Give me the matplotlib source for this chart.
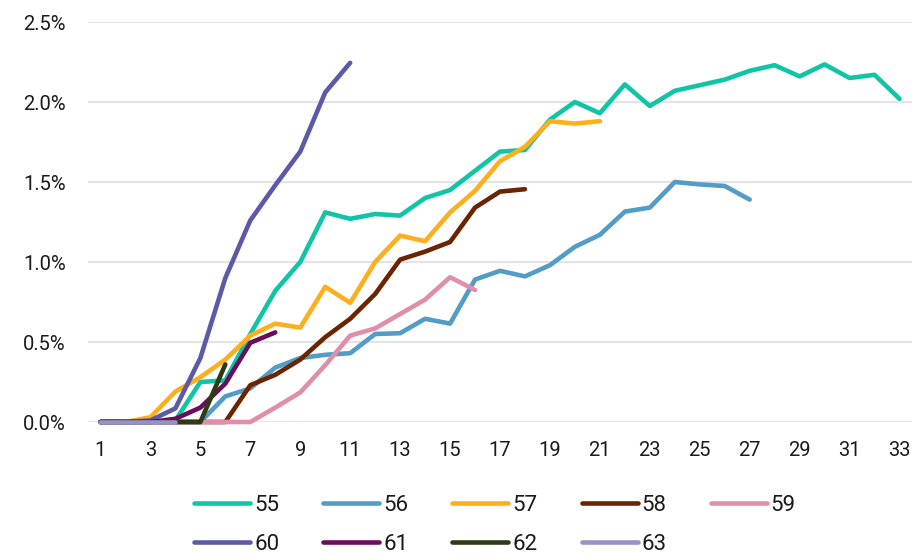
import matplotlib
matplotlib.use("Agg")
import matplotlib.pyplot as plt
from matplotlib.ticker import FuncFormatter, FixedLocator

# ---- data (values in %) ----
s55 = [0, 0, 0, 0.01, 0.25, 0.26, 0.55, 0.82, 1.00, 1.31, 1.27, 1.30, 1.29, 1.40, 1.45, 1.57,
       1.69, 1.70, 1.89, 2.00, 1.93, 2.11, 1.975, 2.07, 2.105, 2.14, 2.195, 2.23, 2.16, 2.235,
       2.15, 2.17, 2.02]
s56 = [0, 0, 0, 0, 0, 0.16, 0.21, 0.34, 0.40, 0.42, 0.43, 0.55, 0.555, 0.645, 0.615, 0.89,
       0.945, 0.91, 0.98, 1.095, 1.17, 1.315, 1.34, 1.50, 1.485, 1.475, 1.39]
s57 = [0, 0, 0.03, 0.19, 0.28, 0.39, 0.54, 0.615, 0.59, 0.845, 0.745, 1.00, 1.165, 1.13,
       1.31, 1.445, 1.63, 1.72, 1.88, 1.865, 1.88]
s58 = [0, 0, 0, 0, 0, 0, 0.23, 0.295, 0.39, 0.53, 0.645, 0.80, 1.015, 1.065, 1.125, 1.34,
       1.44, 1.455]
s59 = [0, 0, 0, 0, 0, 0, 0, 0.09, 0.185, 0.355, 0.54, 0.585, 0.675, 0.765, 0.905, 0.825]
s60 = [0, 0, 0.01, 0.085, 0.40, 0.90, 1.26, 1.48, 1.69, 2.06, 2.245]
s61 = [0, 0, 0, 0.02, 0.09, 0.24, 0.495, 0.56]
s62 = [0, 0, 0, 0, 0, 0.36]
s63 = [0, 0, 0, 0]

series_names = ["55", "56", "57", "58", "59", "60", "61", "62", "63"]
series_values = [s55, s56, s57, s58, s59, s60, s61, s62, s63]
colors = ["#10C5A6", "#529CC5", "#FFAE1C", "#6B2400", "#E08EAB",
          "#5A5AA8", "#6A0E5C", "#2D3A14", "#9890C8"]

x_ticks = list(range(1, 34, 2))
y_ticks = [0.0, 0.5, 1.0, 1.5, 2.0, 2.5]

plt.rcParams["font.family"] = ["Roboto", "DejaVu Sans"]
TXT = "#1A1A1A"

fig = plt.figure(figsize=(9.15, 5.55), dpi=100)
ax = fig.add_axes([88 / 915, 1 - 422 / 555, (912 - 88) / 915, 400 / 555])

handles = []
for name, vals, col in zip(series_names, series_values, colors):
    xs = list(range(1, len(vals) + 1))
    h, = ax.plot(xs, vals, color=col, lw=3.3, solid_capstyle="round",
                 solid_joinstyle="round", label=name, clip_on=False)
    handles.append(h)

ax.set_xlim(0.5, 33.5)
ax.set_ylim(0, 2.5)
ax.xaxis.set_major_locator(FixedLocator(x_ticks))
ax.yaxis.set_major_locator(FixedLocator(y_ticks))
ax.yaxis.set_major_formatter(FuncFormatter(lambda v, p: f"{v:.1f}%"))
ax.grid(axis="y", color="#E4E4E4", lw=1.6)
ax.set_axisbelow(True)
for sp in ax.spines.values():
    sp.set_visible(False)
ax.tick_params(axis="both", length=0, labelsize=14.5, colors=TXT)
ax.tick_params(axis="y", pad=16)
ax.tick_params(axis="x", pad=14)

order = [0, 5, 1, 6, 2, 7, 3, 8, 4]
leg = fig.legend([handles[i] for i in order], [series_names[i] for i in order],
                 loc="center", bbox_to_anchor=(0.541, 0.054), ncol=5, frameon=False,
                 fontsize=16, handlelength=2.52, handletextpad=0.18,
                 columnspacing=1.98, labelspacing=0.8)
for t in leg.get_texts():
    t.set_color(TXT)

fig.savefig("out.png", dpi=100)
